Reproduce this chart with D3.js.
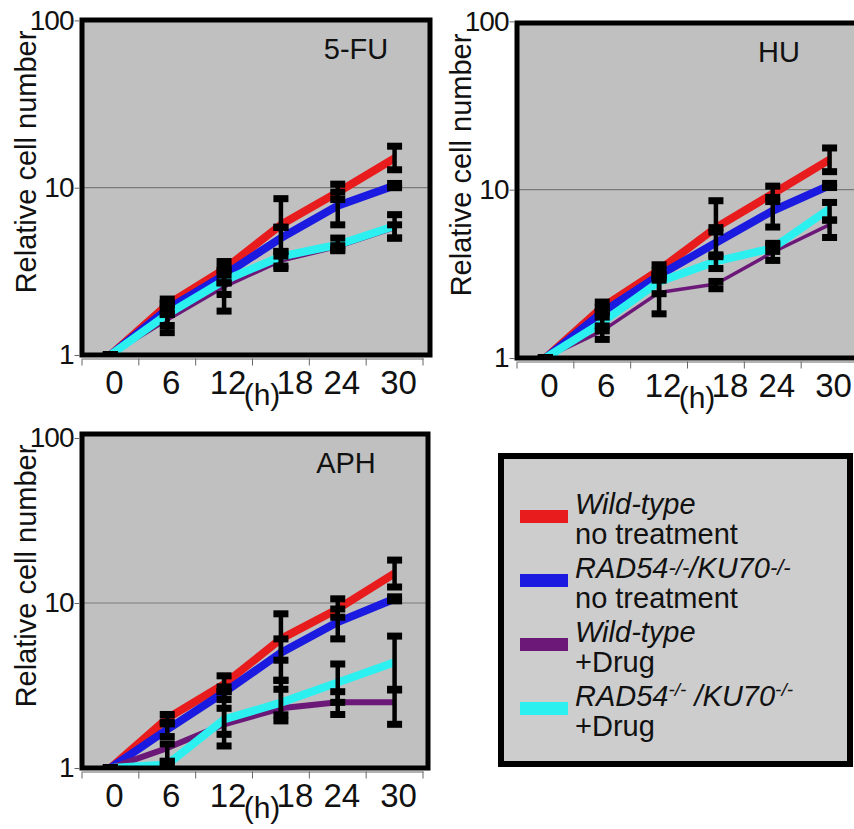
<!DOCTYPE html>
<html>
<head>
<meta charset="utf-8">
<script src="https://cdn.jsdelivr.net/npm/d3@7"></script>
<style>
  body { margin: 0; background: #fff; }
  svg { display: block; }
  text { font-family: "Liberation Sans", Arial, sans-serif; fill: #111; }
</style>
</head>
<body>
<svg id="chart"></svg>
<script>
// time points (h) and y ticks
var hours = [0, 6, 12, 18, 24, 30];
var yTicks = [1, 10, 100];
var seriesColors = ["#e81c1c", "#1a1ae0", "#6c1878", "#2cf0f0"];

// 5-FU : wild-type / RAD54-KU70 , with and without drug
var fuWT = [1, 2.0, 3.25, 6.0, 9.4, 15.0];
var fuWTerr = [[1, 1], [1.9, 2.16], [3.0, 3.62], [5.8, 8.6], [8.5, 10.5], [12.8, 17.7]];
var fuKO = [1, 1.88, 3.0, 5.0, 7.8, 10.3];
var fuKOerr = [[1, 1], [1.75, 2.05], [2.7, 3.3], [4.16, 5.8], [6.0, 9.4], [10.0, 10.6]];
var fuWTd = [1, 1.62, 2.55, 3.65, 4.4, 5.7];
var fuWTderr = [[1, 1], [1.36, 1.75], [1.83, 2.7], [3.29, 3.9], [4.2, 4.5], [5.0, 6.0]];
var fuKOd = [1, 1.75, 2.79, 3.88, 4.56, 5.9];
var fuKOderr = [[1, 1], [1.5, 2.0], [2.3, 3.2], [3.4, 4.16], [4.26, 5.0], [5.0, 6.9]];

// HU
var huWT = [1, 2.0, 3.33, 5.95, 9.46, 15.1];
var huWTerr = [[1, 1], [1.9, 2.15], [3.1, 3.58], [5.6, 8.6], [8.5, 10.5], [12.8, 17.7]];
var huKO = [1, 1.87, 3.1, 4.84, 7.5, 10.6];
var huKOerr = [[1, 1], [1.75, 2.0], [2.9, 3.3], [4.0, 5.95], [6.0, 9.0], [10.3, 10.9]];
var huWTd = [1, 1.45, 2.45, 2.75, 4.25, 6.2];
var huWTderr = [[1, 1], [1.29, 1.55], [1.83, 3.0], [2.58, 2.85], [3.8, 4.8], [5.2, 6.6]];
var huKOd = [1, 1.63, 2.84, 3.75, 4.5, 7.7];
var huKOderr = [[1, 1], [1.45, 1.87], [2.41, 3.1], [3.4, 4.1], [4.3, 4.7], [6.6, 8.4]];

// APH
var aphWT = [1, 2.0, 3.22, 6.06, 9.2, 15.1];
var aphWTerr = [[1, 1], [1.85, 2.11], [2.9, 3.62], [4.5, 8.6], [8.2, 10.6], [12.5, 18.2]];
var aphKO = [1, 1.71, 2.87, 5.0, 7.66, 10.6];
var aphKOerr = [[1, 1], [1.55, 1.9], [2.6, 3.1], [3.4, 6.06], [6.06, 9.2], [10.3, 10.9]];
var aphWTd = [1, 1.32, 1.84, 2.3, 2.5, 2.5];
var aphWTderr = [[1, 1], [1.09, 1.4], [1.36, 2.3], [1.93, 3.0], [2.11, 2.9], [1.84, 3.0]];
var aphKOd = [1, 1.05, 1.97, 2.49, 3.3, 4.37];
var aphKOderr = [[1, 1], [1.0, 1.1], [1.6, 2.9], [2.1, 3.4], [2.5, 4.27], [2.97, 6.3]];

// legend text
var legendTop = [
  [["Wild-type", "n"]],
  [["RAD54", "n"], ["-/-", "s"], ["/KU70", "n"], ["-/-", "s"]],
  [["Wild-type", "n"]],
  [["RAD54", "n"], ["-/-", "u"], [" /KU70", "n"], ["-/-", "u"]]
];
var legendBottom = ["no treatment", "no treatment", "+Drug", "+Drug"];

var width = 854, height = 829;

var panels = [
  { name: "5-FU", left: 82, top: 20, bottom: 355, grid: 190.7, w: 348, purpleW: 3.5, nameX: 274,
    vals: [fuWT, fuKO, fuWTd, fuKOd], errs: [fuWTerr, fuKOerr, fuWTderr, fuKOderr] },
  { name: "HU", left: 517, top: 23, bottom: 358, grid: 192.7, w: 348, purpleW: 3.5, nameX: 262,
    vals: [huWT, huKO, huWTd, huKOd], errs: [huWTerr, huKOerr, huWTderr, huKOderr] },
  { name: "APH", left: 82, top: 434, bottom: 768, grid: 606, w: 346, purpleW: 6, nameX: 264,
    vals: [aphWT, aphKO, aphWTd, aphKOd], errs: [aphWTerr, aphKOerr, aphWTderr, aphKOderr] }
];

var svg = d3.select("#chart")
    .attr("width", width)
    .attr("height", height);

panels.forEach(function(p, pi) {
  var decade = p.bottom - p.grid + 3;
  var x = d3.scaleBand()
      .domain(hours)
      .range([p.left, p.left + 341]);
  var y = d3.scaleLog()
      .domain([1, 100])
      .range([p.bottom, p.bottom - 2 * decade]);
  var cx = function(h) { return x(h) + x.bandwidth() / 2; };

  var g = svg.append("g");

  g.append("clipPath")
      .attr("id", "clip" + pi)
    .append("rect")
      .attr("x", p.left)
      .attr("y", p.top)
      .attr("width", p.w)
      .attr("height", p.bottom - p.top);

  g.append("rect")
      .attr("x", p.left)
      .attr("y", p.top)
      .attr("width", p.w)
      .attr("height", p.bottom - p.top)
      .attr("fill", "#c0c0c0");

  g.append("line")
      .attr("x1", p.left)
      .attr("x2", p.left + p.w)
      .attr("y1", y(10))
      .attr("y2", y(10))
      .attr("stroke", "#7a7a7a")
      .attr("stroke-width", 1.2);

  var plot = g.append("g").attr("clip-path", "url(#clip" + pi + ")");

  var line = d3.line()
      .x(function(d, i) { return cx(hours[i]); })
      .y(function(d) { return y(d); });

  plot.selectAll(".series")
      .data(p.vals)
      .enter().append("path")
      .attr("class", "series")
      .attr("d", line)
      .attr("fill", "none")
      .attr("stroke", function(d, i) { return seriesColors[i]; })
      .attr("stroke-width", function(d, i) { return i == 2 ? p.purpleW : 8; })
      .attr("stroke-linejoin", "round");

  // error bars
  var bars = [];
  p.errs.forEach(function(s) {
    s.forEach(function(e, i) { bars.push({ h: hours[i], lo: e[0], hi: e[1] }); });
  });
  var eb = plot.selectAll(".err")
      .data(bars)
      .enter().append("g")
      .attr("class", "err");
  eb.append("line")
      .attr("x1", function(d) { return cx(d.h); })
      .attr("x2", function(d) { return cx(d.h); })
      .attr("y1", function(d) { return y(d.lo); })
      .attr("y2", function(d) { return y(d.hi); })
      .attr("stroke", "#000")
      .attr("stroke-width", 4.5);
  eb.selectAll("rect")
      .data(function(d) { return [{ h: d.h, v: d.lo }, { h: d.h, v: d.hi }]; })
      .enter().append("rect")
      .attr("x", function(d) { return cx(d.h) - 7.5; })
      .attr("y", function(d) { return y(d.v) - 3.5; })
      .attr("width", 15)
      .attr("height", 7)
      .attr("fill", "#000");

  // frame
  g.append("rect")
      .attr("x", p.left)
      .attr("y", p.top)
      .attr("width", p.w)
      .attr("height", p.bottom - p.top)
      .attr("fill", "none")
      .attr("stroke", "#000")
      .attr("stroke-width", 5);

  // x axis
  var gx = g.append("g")
      .attr("transform", "translate(0," + (p.bottom + 3.5) + ")")
      .call(d3.axisBottom(x).tickSize(0));
  gx.select(".domain")
      .attr("stroke", "#666")
      .attr("stroke-width", 1);
  gx.selectAll("text")
      .attr("font-size", 33)
      .attr("y", 35)
      .attr("dy", 0)
      .attr("dx", function(d) { return d == 18 ? 14 : 4; });
  gx.selectAll(".bound")
      .data(hours.map(function(h) { return x(h); }).concat([x.range()[1]]))
      .enter().append("line")
      .attr("class", "bound")
      .attr("x1", function(d) { return d; })
      .attr("x2", function(d) { return d; })
      .attr("y1", 0)
      .attr("y2", 7)
      .attr("stroke", "#666")
      .attr("stroke-width", 1);

  g.append("text")
      .attr("x", p.left + 180)
      .attr("y", p.bottom + 50)
      .attr("text-anchor", "middle")
      .attr("font-size", 30)
      .text("(h)");

  // y axis
  var gy = g.append("g")
      .attr("transform", "translate(" + (p.left - 2.5) + ",0)")
      .call(d3.axisLeft(y).tickValues(yTicks).tickFormat(d3.format("d")).tickSize(5).tickPadding(1));
  gy.select(".domain").remove();
  gy.selectAll("line").attr("stroke", "#666");
  gy.selectAll("text")
      .attr("font-size", 28)
      .style("letter-spacing", "-1px");

  g.append("text")
      .attr("transform", "translate(" + (p.left - 46) + "," + (p.top + 142) + ") rotate(-90)")
      .attr("text-anchor", "middle")
      .attr("font-size", 29)
      .text("Relative cell number");

  g.append("text")
      .attr("x", p.left + p.nameX)
      .attr("y", p.top + 39)
      .attr("text-anchor", "middle")
      .attr("font-size", 29)
      .attr("fill", "#222")
      .text(p.name);
});

// legend
var leg = svg.append("g");
leg.append("rect")
    .attr("x", 501)
    .attr("y", 456)
    .attr("width", 349)
    .attr("height", 308)
    .attr("fill", "#cdcdcd")
    .attr("stroke", "#000")
    .attr("stroke-width", 6);

var items = leg.selectAll(".item")
    .data(legendBottom)
    .enter().append("g")
    .attr("class", "item")
    .attr("transform", function(d, i) { return "translate(0," + (514 + i * 64) + ")"; });

items.append("rect")
    .attr("x", 520)
    .attr("y", -4)
    .attr("width", 48)
    .attr("height", 13)
    .attr("fill", function(d, i) { return seriesColors[i]; });

var first = items.append("text")
    .attr("x", 575)
    .attr("y", 0)
    .attr("font-size", 29)
    .attr("font-style", "italic");
first.selectAll("tspan")
    .data(function(d, i) { return legendTop[i]; })
    .enter().append("tspan")
    .attr("font-size", function(d) { return d[1] == "n" ? 29 : (d[1] == "s" ? 22 : 19); })
    .attr("dy", function(d, i, nodes) {
      var shift = { n: 0, s: -3, u: -10 };
      var prev = i > 0 ? shift[nodes[i - 1].__data__[1]] : 0;
      return shift[d[1]] - prev;
    })
    .text(function(d) { return d[0]; });

items.append("text")
    .attr("x", 575)
    .attr("y", 30)
    .attr("font-size", 29)
    .text(function(d) { return d; });
</script>
</body>
</html>
